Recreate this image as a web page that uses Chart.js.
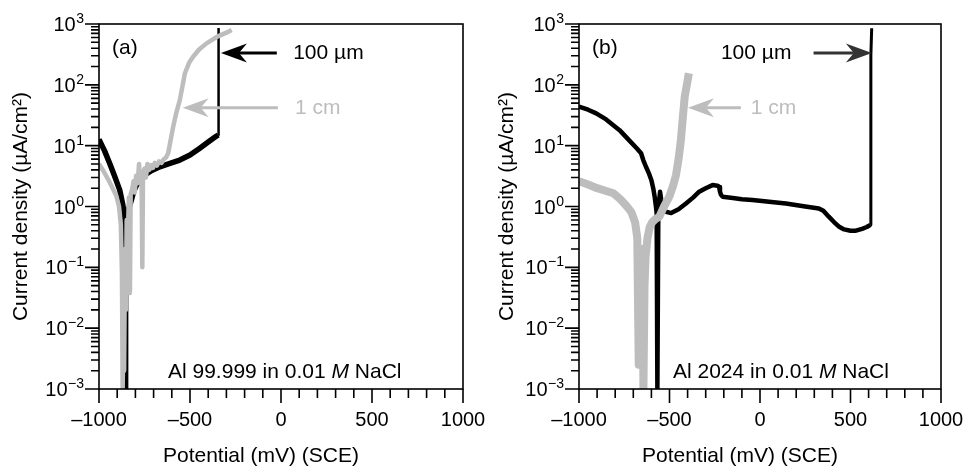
<!DOCTYPE html>
<html>
<head>
<meta charset="utf-8">
<script src="https://cdn.jsdelivr.net/npm/chart.js@4/dist/chart.umd.min.js"></script>
<style>
  body { margin: 0; background: #fff; }
  .wrap { display: flex; width: 972px; height: 470px; }
  canvas { display: block; }
</style>
</head>
<body>
<div class="wrap">
  <canvas id="chartA" width="486" height="470"></canvas>
  <canvas id="chartB" width="486" height="470"></canvas>
</div>
<script>
// Potential (mV vs SCE) / current density (uA/cm2) pairs

// (a) Al 99.999, 1 cm electrode
const grayA = [
  [-1000, 5.0], [-975, 3.8], [-950, 2.8], [-925, 2.0], [-905, 1.5], [-890, 1.0],
  [-880, 0.5], [-874, 0.08], [-870, 0.001], [-866, 0.01], [-862, 0.002], [-857, 0.2],
  [-852, 0.02], [-848, 0.6], [-842, 0.3], [-836, 1.4], [-830, 0.038], [-826, 1.6],
  [-818, 1.9], [-810, 2.6], [-804, 1.7], [-796, 3.2], [-788, 2.4], [-780, 5.0],
  [-774, 2.5], [-766, 3.0], [-762, 0.1], [-758, 3.5], [-750, 4.2], [-742, 3.0],
  [-734, 5.0], [-724, 4.0], [-714, 4.8], [-704, 4.3], [-694, 5.2], [-682, 4.7],
  [-670, 5.5], [-656, 5.2], [-644, 6.0], [-632, 6.4], [-620, 7.5], [-605, 13],
  [-593, 20], [-575, 35], [-556, 56], [-540, 100], [-528, 155], [-505, 230],
  [-483, 290], [-450, 380], [-409, 480], [-350, 620], [-300, 720], [-271, 800]
];

// (a) Al 99.999, 100 um electrode
const blackA = [
  [-1000, 12.7], [-970, 8.3], [-941, 5.1], [-915, 3.2], [-886, 1.86], [-870, 1.1],
  [-859, 0.68], [-855, 0.45], [-855, 0.001], [-853, 0.001], [-853, 0.45], [-846, 0.6],
  [-835, 0.95], [-822, 1.28], [-810, 1.75], [-794, 2.25], [-770, 2.8], [-748, 3.3],
  [-710, 3.9], [-666, 4.5], [-610, 5.1], [-556, 5.8], [-500, 7.0], [-446, 9.1],
  [-400, 11.5], [-360, 14], [-345, 15], [-343, 860]
];

// (b) Al 2024, 1 cm electrode
const grayB = [
  [-1000, 2.6], [-950, 2.3], [-900, 2.0], [-850, 1.8], [-810, 1.65], [-770, 1.3],
  [-735, 1.0], [-710, 0.8], [-690, 0.55], [-678, 0.3], [-670, 0.0025], [-662, 0.12],
  [-656, 0.03], [-650, 0.2], [-644, 0.001], [-638, 0.05], [-632, 0.15], [-622, 0.3],
  [-610, 0.45], [-596, 0.55], [-578, 0.62], [-556, 0.68], [-530, 1.0], [-501, 1.45],
  [-480, 2.2], [-464, 3.3], [-450, 6], [-437, 12.4], [-430, 22], [-416, 64],
  [-404, 100], [-393, 155]
];

// (b) Al 2024, 100 um electrode
const blackB = [
  [-1000, 44], [-950, 39], [-905, 34], [-850, 27], [-776, 18], [-720, 12], [-680, 9],
  [-657, 7.5], [-645, 5.8], [-630, 4.5], [-612, 3.4], [-600, 2.7], [-590, 2.0],
  [-582, 1.45], [-575, 1.0], [-571, 0.78], [-567, 0.001], [-565, 0.001], [-562, 0.6],
  [-558, 1.2], [-552, 1.75], [-546, 1.3], [-538, 0.95], [-528, 0.84], [-519, 0.82],
  [-491, 0.78], [-450, 0.9], [-409, 1.12], [-370, 1.4], [-336, 1.75], [-300, 2.0],
  [-262, 2.25], [-235, 2.2], [-226, 2.1], [-221, 1.75], [-215, 1.55], [-207, 1.45],
  [-150, 1.38], [-100, 1.32], [-42, 1.28], [50, 1.2], [143, 1.12], [250, 1.0],
  [325, 0.93], [350, 0.85], [380, 0.68], [410, 0.55], [435, 0.47], [465, 0.42],
  [500, 0.4], [530, 0.4], [564, 0.43], [590, 0.46], [610, 0.5], [612, 10],
  [613, 300], [617, 850]
];

// axis ticks
const xTickValues = [-1000, -500, 0, 500, 1000];
const xTickLabels = ['\u20131000', '\u2013500', '0', '500', '1000'];
const yDecades = [-3, -2, -1, 0, 1, 2, 3];
const yExpLabels = ['\u22123', '\u22122', '\u22121', '0', '1', '2', '3'];

const FONT = '"Liberation Sans", Arial, Helvetica, sans-serif';
const GRAY = '#bdbdbd';

function toPoints(pairs) {
  return pairs.map(p => ({ x: p[0], y: p[1] }));
}

function drawArrow(ctx, x1, y, x2, color) {
  const dir = Math.sign(x2 - x1);
  const headLen = 26, halfW = 9.5, notch = 8;
  ctx.strokeStyle = color;
  ctx.fillStyle = color;
  ctx.lineWidth = 3;
  ctx.beginPath();
  ctx.moveTo(x1, y);
  ctx.lineTo(x2 - dir * (headLen - notch), y);
  ctx.stroke();
  ctx.beginPath();
  ctx.moveTo(x2, y);
  ctx.lineTo(x2 - dir * headLen, y - halfW);
  ctx.lineTo(x2 - dir * (headLen - notch), y);
  ctx.lineTo(x2 - dir * headLen, y + halfW);
  ctx.closePath();
  ctx.fill();
}

// frame, ticks, labels and annotations
const decorPlugin = {
  id: 'decor',
  afterDatasetsDraw(chart, args, opts) {
    const ctx = chart.ctx;
    const a = chart.chartArea;
    const xs = chart.scales.x, ys = chart.scales.y;
    ctx.save();

    ctx.strokeStyle = '#000';
    ctx.lineWidth = 1.6;
    ctx.strokeRect(a.left, a.top, a.right - a.left, a.bottom - a.top);

    // tick marks
    ctx.beginPath();
    for (let v = -1000; v <= 1000; v += 100) {
      const px = xs.getPixelForValue(v);
      const len = v % 500 === 0 ? 14 : 9;
      ctx.moveTo(px, a.bottom);
      ctx.lineTo(px, a.bottom + len);
    }
    yDecades.forEach(d => {
      for (let m = 1; m <= 9; m++) {
        if (d === 3 && m > 1) break;
        const py = ys.getPixelForValue(m * Math.pow(10, d));
        const len = m === 1 ? 14 : 8;
        ctx.moveTo(a.left, py);
        ctx.lineTo(a.left - len, py);
      }
    });
    ctx.stroke();

    // tick labels
    ctx.fillStyle = '#000';
    ctx.font = '20px ' + FONT;
    ctx.textAlign = 'center';
    ctx.textBaseline = 'alphabetic';
    xTickValues.forEach((v, i) => {
      ctx.fillText(xTickLabels[i], xs.getPixelForValue(v), 426);
    });
    yDecades.forEach((d, i) => {
      const py = ys.getPixelForValue(Math.pow(10, d));
      ctx.font = '14px ' + FONT;
      const ew = ctx.measureText(yExpLabels[i]).width;
      ctx.textAlign = 'right';
      const right = a.left - 15;
      ctx.fillText(yExpLabels[i], right, py - 1);
      ctx.font = '20px ' + FONT;
      ctx.fillText('10', right - ew - 0.5, py + 7);
    });

    // axis titles
    ctx.font = '21px ' + FONT;
    ctx.textAlign = 'center';
    ctx.fillText('Potential (mV) (SCE)', opts.titleX, 462);
    ctx.save();
    ctx.translate(21, (a.top + a.bottom) / 2);
    ctx.rotate(-Math.PI / 2);
    ctx.textBaseline = 'middle';
    ctx.fillText('Current density (\u00b5A/cm\u00b2)', 0, 0);
    ctx.restore();

    // panel letter
    ctx.textAlign = 'left';
    ctx.textBaseline = 'middle';
    ctx.fillText(opts.panel, a.left + 13, 48);

    // sample label with italic M
    ctx.textBaseline = 'alphabetic';
    let tx = a.left + opts.sampleDx;
    const ty = 378;
    const partA = opts.sample + ' in 0.01 ';
    ctx.fillText(partA, tx, ty);
    tx += ctx.measureText(partA).width;
    ctx.font = 'italic 21px ' + FONT;
    ctx.fillText('M', tx, ty);
    tx += ctx.measureText('M').width;
    ctx.font = '21px ' + FONT;
    ctx.fillText(' NaCl', tx, ty);

    // arrows with size labels
    ctx.textBaseline = 'middle';
    opts.arrows.forEach(ar => {
      const y = ys.getPixelForValue(ar.y);
      drawArrow(ctx, xs.getPixelForValue(ar.from), y, xs.getPixelForValue(ar.to), ar.color);
      ctx.fillStyle = ar.textColor;
      ctx.fillText(ar.text, xs.getPixelForValue(ar.textX), y);
    });

    ctx.restore();
  }
};

function makeChart(id, gray, grayWidth, black, blackWidth, thinFrom, thinWidth, pad, decor) {
  return new Chart(document.getElementById(id), {
    type: 'line',
    data: {
      datasets: [
        {
          label: '1 cm',
          data: toPoints(gray),
          borderColor: GRAY,
          borderWidth: grayWidth,
          borderJoinStyle: 'round',
          pointRadius: 0,
          tension: 0,
          segment: { borderWidth: () => grayWidth }
        },
        {
          label: '100 \u00b5m',
          data: toPoints(black),
          borderColor: '#000',
          borderWidth: blackWidth,
          borderJoinStyle: 'round',
          pointRadius: 0,
          tension: 0,
          segment: {
            borderWidth: c => (c.p0DataIndex >= thinFrom ? thinWidth : blackWidth)
          }
        }
      ]
    },
    options: {
      responsive: false,
      animation: false,
      devicePixelRatio: 1,
      layout: { padding: pad },
      plugins: {
        legend: { display: false },
        tooltip: { enabled: false },
        decor: decor
      },
      scales: {
        x: { type: 'linear', min: -1000, max: 1000, display: false },
        y: { type: 'logarithmic', min: 0.001, max: 1000, display: false }
      }
    },
    plugins: [decorPlugin]
  });
}

makeChart('chartA', grayA, 4.5, blackA, 5.5, blackA.length - 2, 2.5,
  { left: 99, right: 23, top: 24, bottom: 81 },
  {
    panel: '(a)', sample: 'Al 99.999', sampleDx: 69, titleX: 261,
    arrows: [
      { from: -23, to: -330, y: 333, color: '#000', text: '100 \u00b5m', textColor: '#000', textX: 67 },
      { from: -17, to: -540, y: 42, color: GRAY, text: '1 cm', textColor: GRAY, textX: 77 }
    ]
  });

makeChart('chartB', grayB, 8, blackB, 4.5, blackB.length - 4, 3,
  { left: 93, right: 31, top: 24, bottom: 81 },
  {
    panel: '(b)', sample: 'Al 2024', sampleDx: 94, titleX: 254,
    arrows: [
      { from: 296, to: 618, y: 333, color: '#333', text: '100 \u00b5m', textColor: '#000', textX: -216 },
      { from: -106, to: -398, y: 42, color: GRAY, text: '1 cm', textColor: GRAY, textX: -51 }
    ]
  });
</script>
</body>
</html>
